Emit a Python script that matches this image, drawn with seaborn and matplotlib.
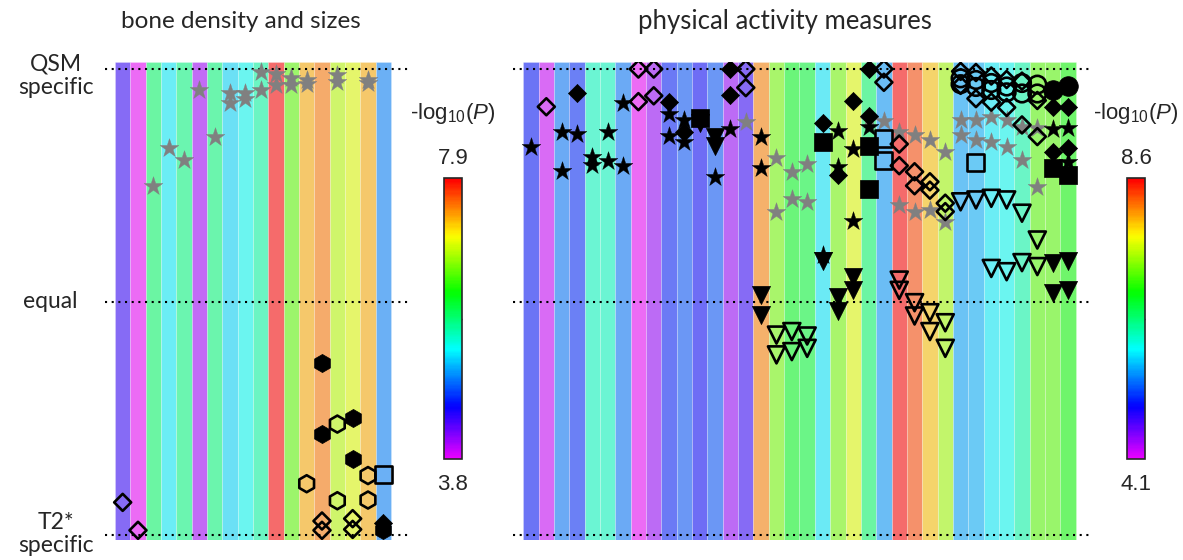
import numpy as np
import matplotlib
matplotlib.use("Agg")
import matplotlib.pyplot as plt
import seaborn as sns
from matplotlib.colors import ListedColormap, Normalize
from matplotlib.cm import ScalarMappable

# ---- data -----------------------------------------------------------------
# -log10(P) of every column (background colour)
bone_logp = [4.42, 3.80, 5.89, 5.36, 5.81, 4.05, 5.85, 5.28, 5.44, 5.69,
             7.90, 6.51, 7.33, 7.49, 6.83, 6.96, 7.33, 4.99]
act_logp = [5.00, 4.24, 5.36, 5.09, 6.08, 6.08, 5.36, 4.10, 4.42, 5.05,
            5.23, 4.96, 5.23, 4.42, 4.78, 8.11, 7.16, 6.67, 6.58, 5.77,
            7.16, 7.57, 6.40, 5.50, 8.60, 8.33, 7.88, 7.34, 5.54, 5.59,
            5.81, 5.90, 6.17, 7.07, 7.07, 6.80]
bone_range = (3.8, 7.9)
act_range = (4.1, 8.6)

# marker positions: column index and specificity (1 = QSM, 0 = equal, -1 = T2*)
bone_gray_star_col = [2, 3, 4, 5, 6, 7, 7, 8, 8, 9, 9, 10, 10, 11, 11, 12, 12, 14, 14, 16, 16]
bone_gray_star_y = [0.50, 0.66, 0.61, 0.91, 0.71, 0.896, 0.855, 0.896, 0.87, 0.986, 0.91,
                    0.977, 0.93, 0.96, 0.93, 0.955, 0.935, 0.974, 0.943, 0.955, 0.94]
bone_open_diamond_col = [0, 1, 13, 13, 15, 15]
bone_open_diamond_y = [-0.86, -0.98, -0.94, -0.98, -0.93, -0.976]
bone_filled_diamond_col = [17]
bone_filled_diamond_y = [-0.95]
bone_filled_hex_col = [13, 13, 15, 15, 17]
bone_filled_hex_y = [-0.263, -0.567, -0.50, -0.674, -0.98]
bone_open_hex_col = [14, 12, 16, 14, 16]
bone_open_hex_y = [-0.524, -0.78, -0.745, -0.853, -0.85]
bone_open_square_col = [17]
bone_open_square_y = [-0.742]
bone_asterisk_col = [17]
bone_asterisk_y = [-0.907]

act_black_star_col = [0, 2, 2, 3, 4, 4, 5, 5, 6, 6, 9, 9, 10, 10, 12, 13, 15, 15,
                      19, 20, 20, 21, 21, 22, 34, 35, 35]
act_black_star_y = [0.667, 0.731, 0.564, 0.72, 0.624, 0.588, 0.731, 0.606, 0.853, 0.585,
                    0.807, 0.714, 0.781, 0.688, 0.538, 0.741, 0.707, 0.574,
                    0.20, 0.735, 0.581, 0.657, 0.349, 0.75, 0.741, 0.745, 0.60]
act_gray_star_col = [14, 16, 16, 17, 17, 18, 18, 22, 23, 24, 24, 25, 25, 26, 26, 27, 27,
                     28, 28, 29, 29, 30, 30, 31, 31, 32, 32, 33, 33]
act_gray_star_y = [0.771, 0.617, 0.385, 0.559, 0.441, 0.592, 0.428, 0.78, 0.777, 0.728, 0.416,
                   0.717, 0.388, 0.695, 0.395, 0.642, 0.345, 0.781, 0.717, 0.781, 0.695,
                   0.793, 0.688, 0.781, 0.667, 0.752, 0.609, 0.745, 0.495]
act_open_diamond_col = [1, 7, 7, 8, 8, 14, 14, 23, 23, 24, 24, 25, 25, 26, 26, 27, 27,
                        28, 28, 29, 29, 30, 30, 31, 31, 32, 32, 33, 33]
act_open_diamond_y = [0.838, 1.0, 0.86, 1.0, 0.885, 1.0, 0.92, 1.0, 0.943, 0.678, 0.585,
                      0.559, 0.499, 0.516, 0.48, 0.424, 0.388, 0.99, 0.93, 0.985, 0.873,
                      0.97, 0.858, 0.955, 0.835, 0.948, 0.76, 0.865, 0.71]
act_filled_diamond_col = [3, 9, 10, 13, 13, 19, 20, 21, 22, 22, 34, 34, 35, 35]
act_filled_diamond_y = [0.896, 0.857, 0.731, 1.0, 0.888, 0.767, 0.545, 0.864, 1.0, 0.798,
                        0.835, 0.642, 0.835, 0.662]
act_filled_square_col = [11, 19, 22, 22, 34, 35]
act_filled_square_y = [0.791, 0.688, 0.67, 0.485, 0.574, 0.545]
act_open_square_col = [23, 23, 29]
act_open_square_y = [0.70, 0.606, 0.60]
act_filled_tri_col = [11, 12, 12, 15, 15, 19, 20, 20, 21, 21, 34, 34, 35, 35]
act_filled_tri_y = [0.77, 0.709, 0.67, 0.03, -0.056, 0.176, 0.02, -0.04, 0.109, 0.052,
                    0.169, 0.037, 0.177, 0.052]
act_open_tri_col = [16, 16, 17, 17, 18, 18, 24, 24, 25, 25, 26, 26, 27, 27,
                    28, 29, 30, 30, 31, 31, 32, 32, 33, 33]
act_open_tri_y = [-0.142, -0.227, -0.127, -0.213, -0.146, -0.199, 0.094, 0.05, -0.003, -0.06,
                  -0.046, -0.127, -0.089, -0.199, 0.43, 0.438, 0.445, 0.144, 0.438, 0.13,
                  0.381, 0.169, 0.266, 0.152]
act_open_circle_col = [28, 28, 29, 29, 30, 30, 31, 31, 32, 32, 33, 33]
act_open_circle_y = [0.96, 0.935, 0.953, 0.923, 0.94, 0.91, 0.925, 0.90, 0.94, 0.895, 0.933, 0.895]
act_filled_circle_col = [34, 35]
act_filled_circle_y = [0.91, 0.925]

# ---- styling --------------------------------------------------------------
sns.set_style("white")
plt.rcParams['font.family'] = ['Lato', 'DejaVu Sans']
plt.rcParams['mathtext.fontset'] = 'custom'
plt.rcParams['mathtext.rm'] = 'Liberation Sans'
plt.rcParams['mathtext.it'] = 'Liberation Sans:italic'

W, H = 1183, 560
cmap = ListedColormap(plt.cm.hsv(np.linspace(5 / 6, 0, 256)))

filled = {
    'gray_star': dict(marker='*', s=200, color='#808080', edgecolor='#808080', linewidth=0.3),
    'black_star': dict(marker='*', s=200, color='k', edgecolor='k', linewidth=0.3),
    'filled_diamond': dict(marker='D', s=85, color='k', edgecolor='k', linewidth=0.5),
    'filled_hex': dict(marker='h', s=170, color='k', edgecolor='k', linewidth=0.5),
    'filled_square': dict(marker='s', s=160, color='k', edgecolor='k', linewidth=0.5),
    'filled_tri': dict(marker='v', s=170, color='k', edgecolor='k', linewidth=0.5),
    'filled_circle': dict(marker='o', s=200, color='k', edgecolor='k', linewidth=0.5),
}
opened = {
    'open_diamond': dict(marker='D', s=75),
    'open_hex': dict(marker='h', s=150),
    'open_square': dict(marker='s', s=150),
    'open_tri': dict(marker='v', s=150),
    'open_circle': dict(marker='o', s=160),
    'asterisk': dict(marker=(6, 2, 0), s=120),
}


def fx(x):
    return x / W


def fy(y):
    return 1 - y / H


def draw_panel(ax, logp, vrange, groups):
    norm = Normalize(*vrange)
    n = len(logp)
    rgb = 0.42 + 0.54 * cmap(norm(np.array(logp)))[:, :3]
    ax.bar(np.arange(n), 2.053, bottom=-1.022, width=1.0, color=rgb,
           edgecolor=(1, 1, 1, 0.25), linewidth=0.6, zorder=1)
    for lev in (1, 0, -1):
        ax.axhline(lev, color='k', linestyle=(0, (1, 2.2)), linewidth=1.5, zorder=2)
    for name, (cols, ys) in groups.items():
        if name in filled:
            sns.scatterplot(x=cols, y=ys, ax=ax, zorder=3, legend=False, **filled[name])
        else:
            ax.scatter(cols, ys, facecolors='none', edgecolors='k', linewidths=1.9,
                       zorder=3, **opened[name])
    ax.set_ylim(-1.022, 1.031)
    ax.axis('off')
    return norm


def draw_cbar(fig, norm, left, label_x, vrange):
    cax = fig.add_axes([fx(left), fy(459.3), fx(18), 281.0 / H])
    cb = fig.colorbar(ScalarMappable(norm=norm, cmap=cmap), cax=cax)
    cb.set_ticks([(vrange[0] + vrange[1]) / 2])
    cb.ax.tick_params(length=3, width=1, direction='in', left=True, right=True,
                      labelleft=False, labelright=False)
    cb.outline.set_linewidth(1.2)
    tfont = dict(family='Liberation Sans', fontsize=16, ha='center', va='center')
    fig.text(fx(label_x), fy(158), f'{vrange[1]:.1f}', **tfont)
    fig.text(fx(label_x), fy(484), f'{vrange[0]:.1f}', **tfont)
    fig.text(fx(label_x), fy(113), r'-log$_{10}$($\mathit{P}$)', **tfont)


fig = plt.figure(figsize=(W / 100, H / 100), dpi=100)

ax1 = fig.add_axes([fx(105), fy(540.1), fx(303), (540.1 - 61.8) / H])
n1 = len(bone_logp)
groups1 = {
    'gray_star': (bone_gray_star_col, bone_gray_star_y),
    'open_diamond': (bone_open_diamond_col, bone_open_diamond_y),
    'open_hex': (bone_open_hex_col, bone_open_hex_y),
    'filled_hex': (bone_filled_hex_col, bone_filled_hex_y),
    'filled_diamond': (bone_filled_diamond_col, bone_filled_diamond_y),
    'open_square': (bone_open_square_col, bone_open_square_y),
    'asterisk': (bone_asterisk_col, bone_asterisk_y),
}
norm1 = draw_panel(ax1, bone_logp, bone_range, groups1)
ax1.set_xlim(-0.5 - 10 / 15.33, n1 - 0.5 + 17 / 15.33)

ax2 = fig.add_axes([fx(513), fy(540.1), fx(577), (540.1 - 61.8) / H])
n2 = len(act_logp)
groups2 = {
    'gray_star': (act_gray_star_col, act_gray_star_y),
    'black_star': (act_black_star_col, act_black_star_y),
    'open_diamond': (act_open_diamond_col, act_open_diamond_y),
    'filled_diamond': (act_filled_diamond_col, act_filled_diamond_y),
    'filled_square': (act_filled_square_col, act_filled_square_y),
    'open_square': (act_open_square_col, act_open_square_y),
    'filled_tri': (act_filled_tri_col, act_filled_tri_y),
    'open_tri': (act_open_tri_col, act_open_tri_y),
    'open_circle': (act_open_circle_col, act_open_circle_y),
    'filled_circle': (act_filled_circle_col, act_filled_circle_y),
}
norm2 = draw_panel(ax2, act_logp, act_range, groups2)
ax2.set_xlim(-0.5 - 10.3 / 15.33, n2 - 0.5 + 14.3 / 15.33)

draw_cbar(fig, norm1, 444, 453, bone_range)
draw_cbar(fig, norm2, 1127, 1136, act_range)

fig.text(fx(241), fy(22), 'bone density and sizes', fontsize=17.5, ha='center', va='center')
fig.text(fx(785), fy(22), 'physical activity measures', fontsize=18.5, ha='center', va='center')
lab = dict(fontsize=16.5, ha='center', va='center', linespacing=1.15)
fig.text(fx(56), fy(76), 'QSM\nspecific', **lab)
fig.text(fx(50), fy(302), 'equal', **lab)
fig.text(fx(56), fy(534), 'T2*\nspecific', **lab)

fig.savefig('out.png', dpi=100)
